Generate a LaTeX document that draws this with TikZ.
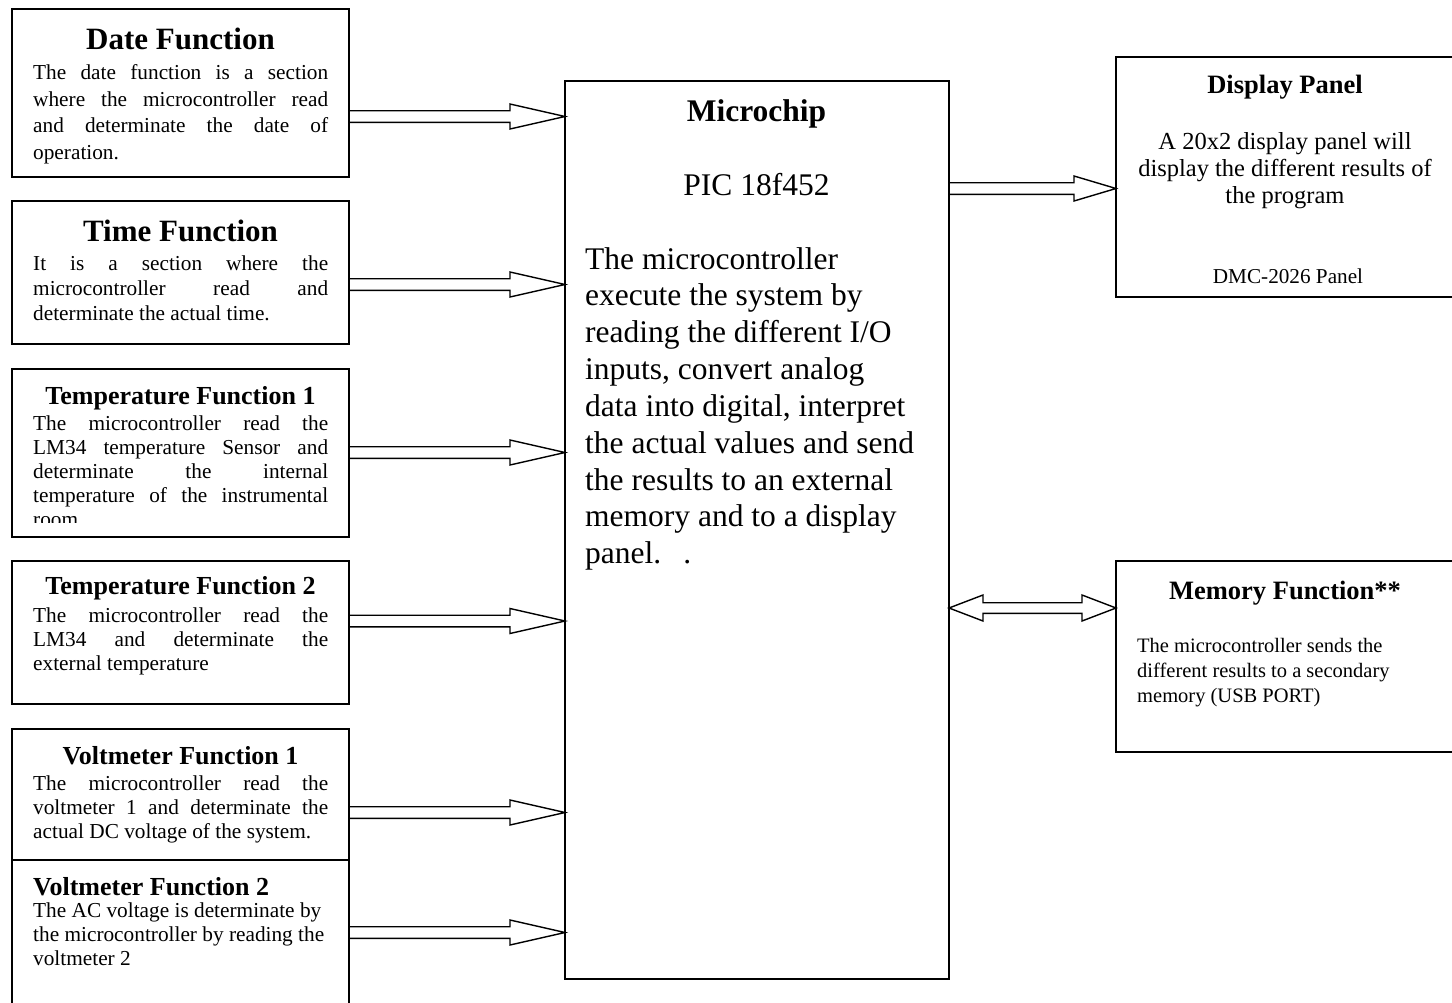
\documentclass[tikz,border=0pt]{standalone}
\usepackage{fontspec}
\setmainfont{Liberation Serif}
\usetikzlibrary{calc}
\tikzset{
  box/.style={draw, line width=1.8pt, inner sep=0pt, outer sep=0pt, anchor=north west},
  blk/.style={draw, line width=1.4pt, line join=miter},
  bigttl/.style={inner sep=0pt, anchor=base, font=\bfseries\fontsize{31}{36}\selectfont},
  ttl/.style={inner sep=0pt, anchor=base, font=\bfseries\fontsize{26}{30}\selectfont},
  txt/.style={inner sep=0pt, anchor=base west},
}
\newcommand\bodyfont[1]{\fontsize{21.3}{#1}\selectfont\tolerance=10000\hbadness=10000\hyphenpenalty=10000\relax}
\newcommand\blkarrow[3]{\draw[blk] ([yshift=5.8pt]#1) -- ([xshift=-#3pt,yshift=5.8pt]#2) -- ([xshift=-#3pt,yshift=12.5pt]#2) -- (#2) -- ([xshift=-#3pt,yshift=-12.5pt]#2) -- ([xshift=-#3pt,yshift=-5.8pt]#2) -- ([yshift=-5.8pt]#1);}
\begin{document}
\begin{tikzpicture}[x=1pt,y=-1pt]
\fill[white] (0,0) rectangle (1452,1002);
\useasboundingbox (0,0) rectangle (1452,1002);

% boxes
\node[box, minimum width=337pt, minimum height=168pt] (date) at (12,9) {};
\node[box, minimum width=337pt, minimum height=143pt] (time) at (12,201) {};
\node[box, minimum width=337pt, minimum height=168pt] (temp1) at (12,369) {};
\node[box, minimum width=337pt, minimum height=143pt] (temp2) at (12,561) {};
\node[box, minimum width=337pt, minimum height=131pt] (volt1) at (12,729) {};
\node[box, minimum width=337pt, minimum height=160pt] (volt2) at (12,860) {};
\node[box, minimum width=384pt, minimum height=898pt] (chip) at (565,81) {};
\node[box, minimum width=338pt, minimum height=240pt] (disp) at (1116,57) {};
\node[box, minimum width=338pt, minimum height=191pt] (mem) at (1116,561) {};

% Date
\node[bigttl] (datet) at (180.5,49.3) {Date Function};
\node[txt] (datex) at (33,79.3) {\parbox[t]{295pt}{\bodyfont{26.7}The date function is a section\linebreak where the microcontroller read\linebreak and determinate the date of\linebreak operation.}};

% Time
\node[bigttl] (timet) at (180.5,241.7) {Time Function};
\node[txt] (timex) at (33,270) {\parbox[t]{295pt}{\bodyfont{25}It is a section where the\linebreak microcontroller read and\linebreak determinate the actual time.}};

% Temp 1
\node[ttl] (temp1t) at (180.5,404.3) {Temperature Function 1};
\begin{scope}
\clip (12,369) rectangle (349,522);
\node[txt] (temp1x) at (33,430) {\parbox[t]{295pt}{\bodyfont{24.2}The microcontroller read the\linebreak LM34 temperature Sensor and\linebreak determinate the internal\linebreak temperature of the instrumental\linebreak room.}};
\end{scope}

% Temp 2
\node[ttl] (temp2t) at (180.5,594.3) {Temperature Function 2};
\node[txt] (temp2x) at (33,622.3) {\parbox[t]{295pt}{\bodyfont{24}The microcontroller read the\linebreak LM34 and determinate the\linebreak external temperature}};

% Volt 1
\node[ttl] (volt1t) at (180.5,764.3) {Voltmeter Function 1};
\node[txt] (volt1x) at (33,790) {\parbox[t]{295pt}{\bodyfont{24}The microcontroller read the\linebreak voltmeter 1 and determinate the\linebreak actual DC voltage of the system.}};

% Volt 2
\node[ttl, anchor=base west] (volt2t) at (33,895) {Voltmeter Function 2};
\node[txt] (volt2x) at (33,917.3) {\parbox[t]{295pt}{\bodyfont{24}\raggedright The AC voltage is determinate by\\the microcontroller by reading the\\voltmeter 2}};

% Microchip
\node[inner sep=0pt, anchor=base, font=\bfseries\fontsize{31.5}{36}\selectfont] (chipt) at (756.5,121.5) {Microchip};
\node[inner sep=0pt, anchor=base, font=\fontsize{31.5}{36}\selectfont] (chipp) at (756.5,195) {PIC 18f452};
\node[txt] (chipx) at (585,269) {\parbox[t]{360pt}{\fontsize{31.5}{36.85}\selectfont\raggedright The microcontroller\\execute the system by\\reading the different I/O\\inputs, convert analog\\data into digital, interpret\\the actual values and send\\the results to an external\\memory and to a display\\panel.\hspace{22pt}.}};

% Display
\node[inner sep=0pt, anchor=base, font=\bfseries\fontsize{26.5}{30}\selectfont] (dispt) at (1285,93.8) {Display Panel};
\node[inner sep=0pt, anchor=base] (dispx) at (1285,149.5) {\parbox[t]{330pt}{\centering\fontsize{24.5}{27.2}\selectfont A 20x2 display panel will\\display the different results of\\the program}};
\node[inner sep=0pt, anchor=base, font=\fontsize{21.2}{25}\selectfont] (dispm) at (1288,283) {DMC-2026 Panel};

% Memory
\node[inner sep=0pt, anchor=base, font=\bfseries\fontsize{26.5}{30}\selectfont] (memt) at (1285,599) {Memory Function**};
\node[txt] (memx) at (1137,652.5) {\parbox[t]{300pt}{\fontsize{20.5}{25}\selectfont\raggedright The microcontroller sends the\\different results to a secondary\\memory (USB PORT)}};

% arrow end points
\coordinate (a1s) at (date.east |- 0,116.5);  \coordinate (a1e) at (chip.west |- 0,116.5);
\coordinate (a2s) at (time.east |- 0,284.5);  \coordinate (a2e) at (chip.west |- 0,284.5);
\coordinate (a3s) at (temp1.east |- 0,452.5); \coordinate (a3e) at (chip.west |- 0,452.5);
\coordinate (a4s) at (temp2.east |- 0,621);   \coordinate (a4e) at (chip.west |- 0,621);
\coordinate (a5s) at (volt1.east |- 0,812.5); \coordinate (a5e) at (chip.west |- 0,812.5);
\coordinate (a6s) at (volt2.east |- 0,932.5); \coordinate (a6e) at (chip.west |- 0,932.5);
\coordinate (d1s) at (chip.east |- 0,188.5);  \coordinate (d1e) at (disp.west |- 0,188.5);
\coordinate (m1) at (chip.east |- 0,608);     \coordinate (m2) at (mem.west |- 0,608);

\blkarrow{a1s}{a1e}{55}
\blkarrow{a2s}{a2e}{55}
\blkarrow{a3s}{a3e}{55}
\blkarrow{a4s}{a4e}{55}
\blkarrow{a5s}{a5e}{55}
\blkarrow{a6s}{a6e}{55}
\blkarrow{d1s}{d1e}{42}
\draw[blk] (m1) -- ([xshift=34pt,yshift=13pt]m1) -- ([xshift=34pt,yshift=5.3pt]m1) -- ([xshift=-34pt,yshift=5.3pt]m2) -- ([xshift=-34pt,yshift=13pt]m2) -- (m2) -- ([xshift=-34pt,yshift=-13pt]m2) -- ([xshift=-34pt,yshift=-5.3pt]m2) -- ([xshift=34pt,yshift=-5.3pt]m1) -- ([xshift=34pt,yshift=-13pt]m1) -- cycle;
\end{tikzpicture}
\end{document}
